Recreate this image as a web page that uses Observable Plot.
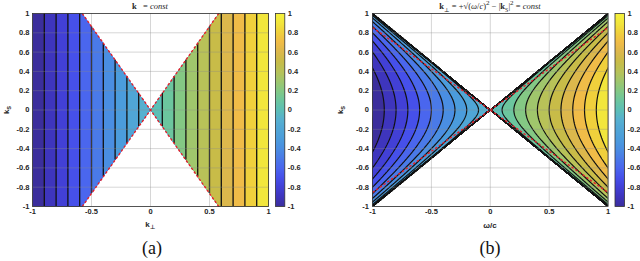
<!DOCTYPE html>
<html><head><meta charset="utf-8">
<script src="https://cdn.jsdelivr.net/npm/d3@7"></script>
<script src="https://cdn.jsdelivr.net/npm/@observablehq/plot@0.6"></script>
<style>
html,body{margin:0;padding:0;background:#fff;overflow:hidden;}
#root{position:relative;width:640px;height:261px;overflow:hidden;}
.abs{position:absolute;}
.c{transform:translate(-50%,-50%);white-space:nowrap;}
.lbl{font:bold 8px "Liberation Sans",Arial,sans-serif;color:#262626;}
.ttl{font:8.5px "Liberation Serif","DejaVu Serif",serif;color:#262626;}
.cap{font:18px "Liberation Serif","DejaVu Serif",serif;color:#111;}
.rot{transform:translate(-50%,-50%) rotate(-90deg);}
sub{font-size:70%;}
</style></head><body><div id="root"></div>
<script>
// contour levels (filled bands start at each level)
const levels = [-1,-0.9,-0.8,-0.7,-0.6,-0.5,-0.4,-0.3,-0.2,-0.1,0,0.1,0.2,0.3,0.4,0.5,0.6,0.7,0.8,0.9];
const lineLevelsA = [-0.9,-0.8,-0.7,-0.6,-0.5,-0.4,-0.3,-0.2,-0.1,0.1,0.2,0.3,0.4,0.5,0.6,0.7,0.8,0.9];
const lineLevelsB = [-0.9,-0.8,-0.7,-0.6,-0.5,-0.4,-0.3,-0.2,-0.1,0,0.1,0.2,0.3,0.4,0.5,0.6,0.7,0.8,0.9];
const xTicks = [-1,-0.5,0,0.5,1];
const yTicks = [-1,-0.8,-0.6,-0.4,-0.2,0,0.2,0.4,0.6,0.8,1];
const barTicks = [-1,-0.8,-0.6,-0.4,-0.2,0,0.2,0.4,0.6,0.8,1];
// cone of panel (a): |k_S| <= coneSlopeA * |k_perp|
const coneSlopeA = 1.73;
// dashed red lines
const redLinesA = [{x1:-0.578,y1:1,x2:0.578,y2:-1},{x1:-0.578,y1:-1,x2:0.578,y2:1}];
const redLinesB = [{x1:-1,y1:0.855,x2:1,y2:-0.855},{x1:-1,y1:-0.855,x2:1,y2:0.855}];
// parula-like colormap at -1, -0.9, ..., 1
const parulaColors = ["#3b2e9c","#3e35bd","#4240d6","#4650ea","#4a66ee","#4a7ae8","#4a8ee2","#4b9cdc","#50a6d6","#56b0d0",
  "#5cbfb6","#6cc69e","#84c884","#a0c66c","#b8c258","#c8bc48","#dcb84c","#f0bc48","#f0d03c","#f2e63c","#f6f23a"];

const parula = d3.piecewise(d3.interpolateRgb, parulaColors);
const fmt = d => String(d);
const colorScale = {type: "linear", domain: [-1, 1], interpolate: parula};
const axisStyle = {fontFamily: "Liberation Sans, Arial, sans-serif", fontSize: "7.5px", fontWeight: "bold", color: "#262626", background: "transparent", overflow: "visible"};

const fieldA = (x, y) => Math.abs(y) <= coneSlopeA * Math.abs(x) ? x : NaN;
const fieldB = (x, y) => Math.abs(y) <= Math.abs(x) ? Math.sign(x) * Math.sqrt(x * x - y * y) : NaN;

const root = document.getElementById("root");
function place(node, left, top) {
  node.style.position = "absolute"; node.style.left = left + "px"; node.style.top = top + "px";
  root.appendChild(node);
}
function html(cls, x, y, content) {
  const d = document.createElement("div");
  d.className = "abs " + cls; d.style.left = x + "px"; d.style.top = y + "px";
  d.innerHTML = content; root.appendChild(d);
}

const H = 232, MT = 13, MB = 26;

function gridMarks() {
  return [
    Plot.ruleX(xTicks, {x: d => d, stroke: "#8a8a8a", strokeOpacity: 0.35}),
    Plot.ruleY(yTicks, {y: d => d, stroke: "#8a8a8a", strokeOpacity: 0.35})
  ];
}

const plotA = Plot.plot({
  width: 272, height: H, marginLeft: 32, marginRight: 4, marginTop: MT, marginBottom: MB,
  style: axisStyle,
  x: {domain: [-1, 1], ticks: xTicks, tickSize: 0, tickPadding: 2.5, tickFormat: fmt, label: null},
  y: {domain: [-1, 1], ticks: yTicks, tickSize: 0, tickPadding: 3, tickFormat: fmt, label: null},
  color: colorScale,
  marks: [
    Plot.contour({fill: fieldA, x1: -1, x2: 1, y1: -1, y2: 1, thresholds: levels, pixelSize: 0.5, stroke: "none"}),
    Plot.ruleX(lineLevelsA, {x: d => d, y1: d => -Math.min(1, coneSlopeA * Math.abs(d)), y2: d => Math.min(1, coneSlopeA * Math.abs(d)), stroke: "#111", strokeWidth: 1.3}),
    ...gridMarks(),
    Plot.link(redLinesA, {x1: "x1", y1: "y1", x2: "x2", y2: "y2", stroke: "#e3212b", strokeWidth: 1.4, strokeDasharray: "2.5,2"}),
    Plot.frame({stroke: "#333", strokeWidth: 0.8})
  ]
});
place(plotA, 0, 0);

function colorbar(mLeft, w, mRight) {
  return Plot.plot({
    width: mLeft + w + mRight, height: H, marginLeft: mLeft, marginRight: mRight, marginTop: MT, marginBottom: MB,
    style: axisStyle,
    x: {domain: [0, 1], axis: null},
    y: {domain: [-1, 1], ticks: barTicks, tickSize: 0, tickPadding: 3, tickFormat: fmt, axis: "right", label: null},
    color: colorScale,
    marks: [
      Plot.raster({fill: (x, y) => y, x1: 0, x2: 1, y1: -1, y2: 1}),
      Plot.frame({stroke: "#333", strokeWidth: 0.8})
    ]
  });
}
place(colorbar(3, 9.3, 36), 272, 0);

const plotB = Plot.plot({
  width: 272, height: H, marginLeft: 32, marginRight: 4.4, marginTop: MT, marginBottom: MB,
  style: axisStyle,
  x: {domain: [-1, 1], ticks: xTicks, tickSize: 0, tickPadding: 2.5, tickFormat: fmt, label: null},
  y: {domain: [-1, 1], ticks: yTicks, tickSize: 0, tickPadding: 3.5, tickFormat: fmt, label: null},
  color: colorScale,
  marks: [
    Plot.contour({fill: fieldB, x1: -1.05, x2: 1.05, y1: -1.05, y2: 1.05, thresholds: levels, pixelSize: 0.5, stroke: "none", clip: true}),
    Plot.contour({value: fieldB, x1: -1.05, x2: 1.05, y1: -1.05, y2: 1.05, thresholds: lineLevelsB, pixelSize: 0.5, fill: "none", stroke: "#111", strokeWidth: 1.2, clip: true}),
    ...gridMarks(),
    Plot.link(redLinesB, {x1: "x1", y1: "y1", x2: "x2", y2: "y2", stroke: "#e3212b", strokeWidth: 1.4, strokeDasharray: "2.5,2"}),
    Plot.frame({stroke: "#333", strokeWidth: 0.8})
  ]
});
place(plotB, 340, 0);
place(colorbar(2.5, 9.5, 30), 612, 0);

// titles, axis labels, captions
html("c ttl", 150, 6, "<b>k</b>&nbsp;&nbsp;&nbsp;= <i>const</i>");
html("c ttl", 490, 6, "<b>k</b><sub>⊥</sub> = +√(<i>ω</i>/<i>c</i>)<sup>2</sup> − |<b>k</b><sub>S</sub>|<sup>2</sup> = <i>const</i>");
html("c lbl", 150, 225, "k<sub>⊥</sub>");
html("c lbl", 490, 225, "ω/c");
html("c lbl rot", 7, 110, "k<sub>S</sub>");
html("c lbl rot", 341, 110, "k<sub>S</sub>");
html("c cap", 152, 248, "(a)");
html("c cap", 490, 248, "(b)");
</script></body></html>
